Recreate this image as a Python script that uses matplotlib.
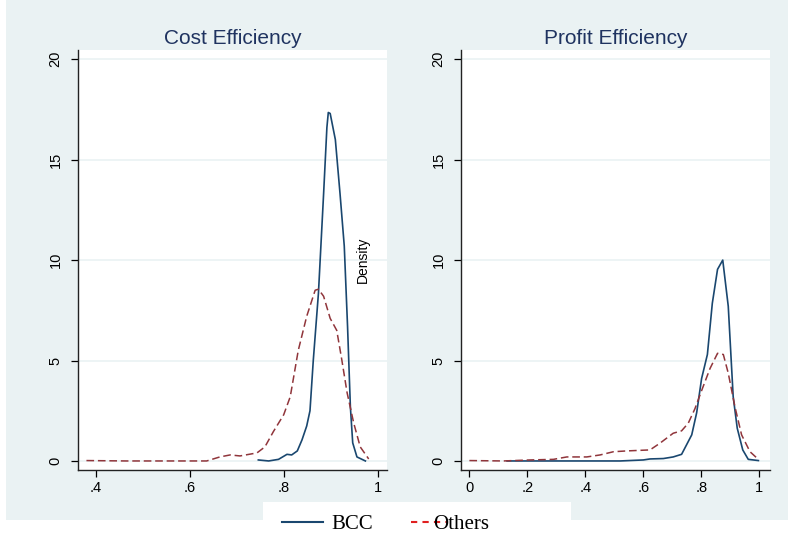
import matplotlib
matplotlib.use("Agg")
import matplotlib.pyplot as plt
from matplotlib.patches import Rectangle
from matplotlib.lines import Line2D

# === 数据（从原图读取的核密度曲线） ===
cost_bcc_x = [0.746, 0.768, 0.789, 0.807, 0.817, 0.829, 0.839, 0.849, 0.856, 0.863,
              0.874, 0.885, 0.892, 0.895, 0.899, 0.910, 0.920, 0.929, 0.936, 0.942,
              0.947, 0.956, 0.974]
cost_bcc_y = [0.05, 0.0, 0.08, 0.33, 0.30, 0.50, 1.05, 1.74, 2.5, 5.0,
              8.35, 13.3, 16.6, 17.35, 17.3, 16.0, 13.3, 10.7, 6.7, 2.7,
              0.9, 0.2, 0.0]

cost_oth_x = [0.380, 0.465, 0.636, 0.664, 0.686, 0.707, 0.743, 0.760, 0.778, 0.800,
              0.814, 0.831, 0.849, 0.867, 0.874, 0.885, 0.899, 0.913, 0.924, 0.935,
              0.949, 0.963, 0.981]
cost_oth_y = [0.02, 0.0, 0.0, 0.2, 0.3, 0.25, 0.4, 0.7, 1.46, 2.3,
              3.2, 5.5, 7.2, 8.5, 8.55, 8.2, 7.1, 6.5, 5.0, 3.4,
              1.9, 0.7, 0.1]

prof_bcc_x = [0.13, 0.52, 0.60, 0.623, 0.669, 0.703, 0.732, 0.749, 0.767, 0.784,
              0.801, 0.821, 0.838, 0.856, 0.874, 0.893, 0.910, 0.924, 0.943, 0.962,
              0.997]
prof_bcc_y = [0.0, 0.0, 0.05, 0.1, 0.12, 0.2, 0.33, 0.8, 1.3, 2.4,
              4.1, 5.3, 7.85, 9.54, 10.0, 7.7, 3.2, 1.63, 0.55, 0.08,
              0.02]

prof_oth_x = [0.0, 0.117, 0.209, 0.290, 0.336, 0.405, 0.451, 0.497, 0.543, 0.623,
              0.657, 0.703, 0.732, 0.755, 0.778, 0.801, 0.830, 0.856, 0.876, 0.893,
              0.916, 0.939, 0.968, 0.993]
prof_oth_y = [0.02, 0.0, 0.05, 0.08, 0.2, 0.2, 0.3, 0.46, 0.5, 0.55,
              0.88, 1.38, 1.5, 1.88, 2.6, 3.5, 4.6, 5.36, 5.3, 4.37,
              2.7, 1.3, 0.46, 0.13]

y_ticks = [0, 5, 10, 15, 20]
cost_xticks = [0.4, 0.6, 0.8, 1.0]
cost_xlabels = [".4", ".6", ".8", "1"]
prof_xticks = [0.0, 0.2, 0.4, 0.6, 0.8, 1.0]
prof_xlabels = ["0", ".2", ".4", ".6", ".8", "1"]

# === 样式 ===
BG = "#eaf2f3"
NAVY = "#1a476f"
MAROON = "#90353b"
TITLE_C = "#1f3360"
plt.rcParams["font.family"] = ["Liberation Sans", "DejaVu Sans"]

W, H = 788, 538
fig = plt.figure(figsize=(W / 100, H / 100), dpi=100, facecolor="white")
fig.add_artist(Rectangle((6 / W, 18 / H), 782 / W, 1 - 18 / H, transform=fig.transFigure,
                         facecolor=BG, edgecolor="none", zorder=-1))

ax1 = fig.add_axes([78 / W, (H - 470) / H, 309 / W, 420 / H])
ax2 = fig.add_axes([460.7 / W, (H - 470) / H, 309.3 / W, 420 / H])


def style(ax, title, xt, xl, xlim):
    ax.set_facecolor("white")
    ax.set_xlim(*xlim)
    ax.set_ylim(-0.45, 20.46)
    ax.set_yticks(y_ticks)
    ax.set_yticklabels([str(v) for v in y_ticks], rotation=90, va="center")
    ax.set_xticks(xt)
    ax.set_xticklabels(xl)
    ax.tick_params(direction="out", length=5, width=0.9, labelsize=10.5, colors="black")
    ax.tick_params(axis="y", pad=6)
    ax.tick_params(axis="x", pad=3)
    for s in ["top", "right"]:
        ax.spines[s].set_visible(False)
    for s in ["left", "bottom"]:
        ax.spines[s].set_linewidth(1.0)
        ax.spines[s].set_color("#222222")
    ax.grid(axis="y", color=BG, linewidth=1.2)
    ax.set_axisbelow(True)
    ax.set_title(title, fontsize=15, color=TITLE_C, pad=4)


ax1.plot(cost_bcc_x, cost_bcc_y, color=NAVY, lw=1.2)
ax1.plot(cost_oth_x, cost_oth_y, color=MAROON, lw=1.1, dashes=(5, 2.5))
style(ax1, "Cost Efficiency", cost_xticks, cost_xlabels, (0.362, 1.020))

ax2.plot(prof_bcc_x, prof_bcc_y, color=NAVY, lw=1.2)
ax2.plot(prof_oth_x, prof_oth_y, color=MAROON, lw=1.1, dashes=(5, 2.5))
style(ax2, "Profit Efficiency", prof_xticks, prof_xlabels, (-0.030, 1.037))

fig.text(363 / W, (H - 260) / H, "Density", rotation=90, ha="center", va="center",
         fontsize=10, color="black")

# === 图例 ===
fig.add_artist(Rectangle((263 / W, 0), 308 / W, 36 / H, transform=fig.transFigure,
                         facecolor="white", edgecolor="none", zorder=1))
h_bcc = Line2D([], [], color=NAVY, lw=1.5)
h_oth = Line2D([], [], color="#e02020", lw=1.5, dashes=(3, 2.5))
fig.legend([h_bcc], ["BCC"], loc="center left", bbox_to_anchor=(282 / W, (H - 524) / H),
           frameon=False, borderpad=0, borderaxespad=0, handlelength=1.97,
           handletextpad=0.38, prop={"family": "Liberation Serif", "size": 15})
fig.legend([h_oth], ["Others"], loc="center left", bbox_to_anchor=(411 / W, (H - 524) / H),
           frameon=False, borderpad=0, borderaxespad=0, handlelength=1.73,
           handletextpad=-0.67, prop={"family": "Liberation Serif", "size": 15})

fig.savefig("out.png", dpi=100, facecolor="white")
